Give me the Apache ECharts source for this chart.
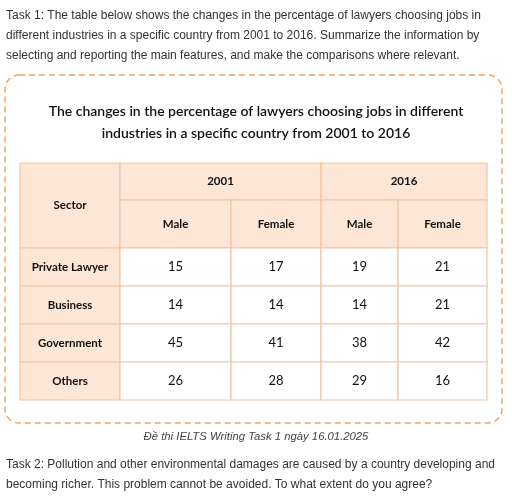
<!DOCTYPE html>
<html><head><meta charset="utf-8">
<script src="https://cdn.jsdelivr.net/npm/echarts@6/dist/echarts.min.js"></script>
<style>html,body{margin:0;padding:0;background:#fff}#c{width:512px;height:496px}</style>
</head><body><div id="c"></div>
<script>
const sectors = ['Private Lawyer', 'Business', 'Government', 'Others'];
const years = ['2001', '2016'];
const genders = ['Male', 'Female'];
const male2001 = [15, 14, 45, 26];
const female2001 = [17, 14, 41, 28];
const male2016 = [19, 14, 38, 29];
const female2016 = [21, 21, 42, 16];

// layout (relative widths / heights)
const colW = [100, 111, 90, 77, 89];
const rowH = [37, 48, 38, 38, 38, 38];
const edges = a => { const s = a.reduce((p, v) => p + v, 0); let acc = 0; const r = [0]; a.forEach(v => { acc += v; r.push(acc / s); }); return r; };
const cE = edges(colW), rE = edges(rowH);
const PEACH = '#fde6d6', LINE = '#f2c6a4';

const cells = [];
cells.push([0, 1, 0, 2, 'Sector', 1, 1]);
years.forEach((y, i) => cells.push([1 + 2 * i, 3 + 2 * i, 0, 1, y, 1, 1]));
years.forEach((y, i) => genders.forEach((g, j) => cells.push([1 + 2 * i + j, 2 + 2 * i + j, 1, 2, g, 1, 1])));
const cols = [male2001, female2001, male2016, female2016];
sectors.forEach((s, r) => {
  cells.push([0, 1, 2 + r, 3 + r, s, 1, 1]);
  cols.forEach((arr, k) => cells.push([1 + k, 2 + k, 2 + r, 3 + r, String(arr[r]), 0, 0]));
});

const chart = echarts.init(document.getElementById('c'), null, { renderer: 'canvas' });
const T = (x, y, text, st) => ({ type: 'text', left: x, top: y, style: Object.assign({ text, fill: '#333', font: '12px "Liberation Sans", Arial' }, st) });
chart.setOption({
  animation: false,
  grid: { left: 20, top: 163, width: 467, height: 237 },
  xAxis: { type: 'value', min: 0, max: 1, show: false },
  yAxis: { type: 'value', min: 0, max: 1, inverse: true, show: false },
  graphic: [
    T(6, 10, 'Task 1: The table below shows the changes in the percentage of lawyers choosing jobs in'),
    T(6, 30, 'different industries in a specific country from 2001 to 2016. Summarize the information by'),
    T(6, 50, 'selecting and reporting the main features, and make the comparisons where relevant.'),
    { type: 'rect', shape: { x: 5, y: 75, width: 497, height: 348, r: 14 }, style: { fill: 'none', stroke: '#f0a466', lineWidth: 1.5, lineDash: [6, 4] } },
    { type: 'text', x: 256, y: 100, style: { text: 'The changes in the percentage of lawyers choosing jobs in different\nindustries in a specific country from 2001 to 2016', fill: '#111', font: '600 14px Lato', align: 'center', lineHeight: 22 } },
    { type: 'text', x: 256, y: 431, style: { text: 'Đề thi IELTS Writing Task 1 ngày 16.01.2025', fill: '#444', align: 'center', font: 'italic 11.3px "Liberation Sans", Arial' } },
    T(6, 459, 'Task 2: Pollution and other environmental damages are caused by a country developing and'),
    T(6, 479, 'becoming richer. This problem cannot be avoided. To what extent do you agree?')
  ],
  series: [{
    type: 'custom',
    coordinateSystem: 'cartesian2d',
    data: cells,
    encode: { x: [0, 1], y: [2, 3] },
    renderItem: (params, api) => {
      const c0 = api.value(0), c1 = api.value(1), r0 = api.value(2), r1 = api.value(3);
      const p0 = api.coord([cE[c0], rE[r0]]), p1 = api.coord([cE[c1], rE[r1]]);
      const d = cells[params.dataIndex];
      return {
        type: 'group', children: [
          { type: 'rect', shape: { x: p0[0], y: p0[1], width: p1[0] - p0[0], height: p1[1] - p0[1] }, style: { fill: d[6] ? PEACH : '#fff', stroke: LINE, lineWidth: 1.2 } },
          { type: 'text', style: { x: (p0[0] + p1[0]) / 2, y: (p0[1] + p1[1]) / 2, text: d[4], align: 'center', verticalAlign: 'middle', fill: '#111', font: d[5] ? '700 11.5px Lato' : '400 13px Lato' } }
        ]
      };
    }
  }]
});
</script></body></html>
